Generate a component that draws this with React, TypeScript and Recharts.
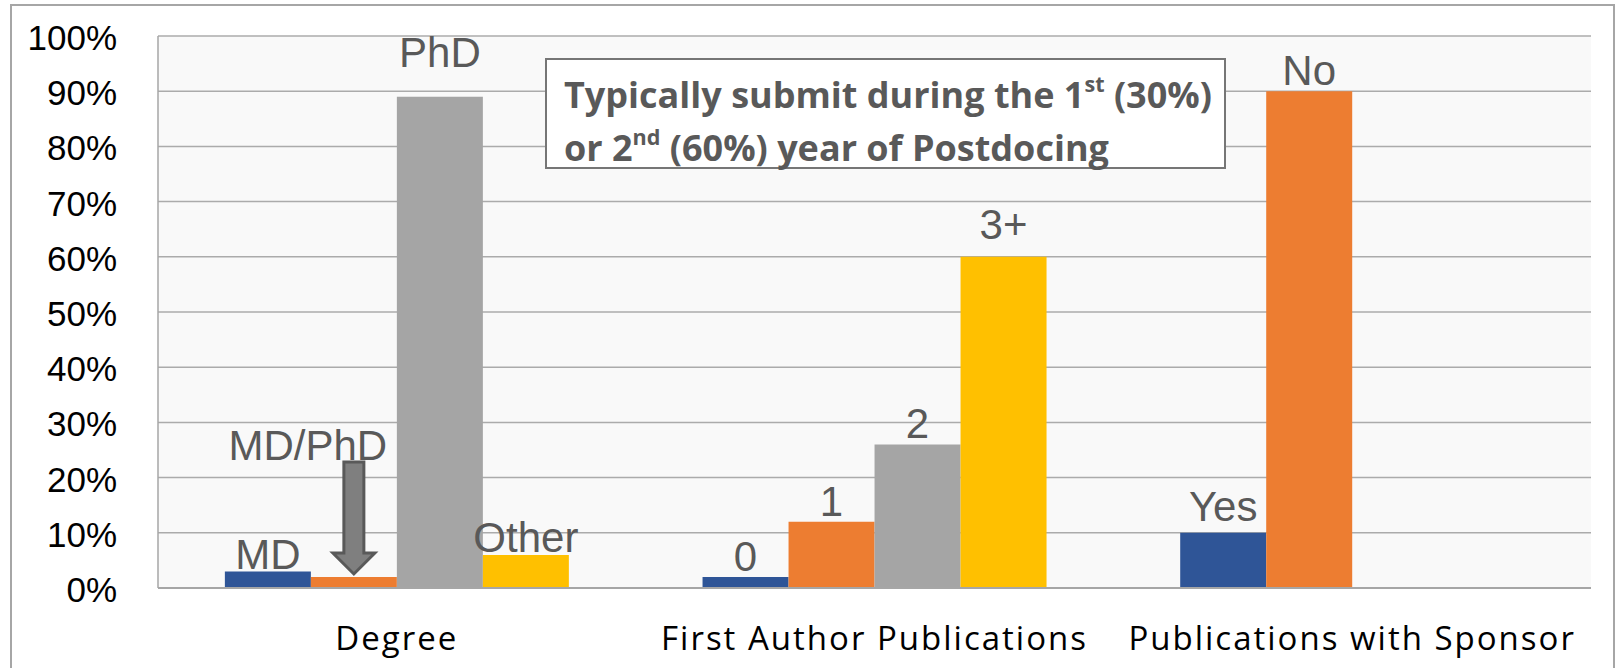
import React from "react"
import {
  BarChart,
  Bar,
  XAxis,
  YAxis,
  CartesianGrid,
  LabelList,
} from "recharts"

const categories = ["Degree", "First Author Publications", "Publications with Sponsor"]

// four bar slots per group, values in percent
const series1 = [3, 2, 10]
const series2 = [2, 12, 90]
const series3 = [89, 26, null]
const series4 = [6, 60, null]

const labels1 = ["MD", "0", "Yes"]
const labels2 = ["MD/PhD", "1", "No"]
const labels3 = ["PhD", "2", ""]
const labels4 = ["Other", "3+", ""]

const yTicks = [0, 10, 20, 30, 40, 50, 60, 70, 80, 90, 100]

const data = categories.map((name, i) => ({
  name,
  s1: series1[i],
  s2: series2[i],
  s3: series3[i],
  s4: series4[i],
}))

const colors = ["#2F5597", "#ED7D31", "#A5A5A5", "#FFC000"]
const labelText = "#595959"
const labelFont = "Liberation Sans, Arial, sans-serif"
// extra lift for a few labels that sit higher above their bars
const labelLift: Record<string, number> = { PhD: 24, "3+": 12, Yes: 6, MD: -4, Other: -3 }
const calloutLabel = "MD/PhD"

function makeLabel(labels: string[]) {
  return (props: any) => {
    const { x, y, width, index, value } = props
    const text = labels[index]
    if (value == null || !text) return null
    const cx = x + width / 2
    if (text === calloutLabel) {
      const top = y - 115
      const tip = y - 3
      const headBase = y - 24
      const sw = 10
      const hw = 21
      const d = `M${cx - sw},${top} L${cx + sw},${top} L${cx + sw},${headBase} L${cx + hw},${headBase} L${cx},${tip} L${cx - hw},${headBase} L${cx - sw},${headBase} Z`
      return (
        <g>
          <path d={d} fill="#7F7F7F" stroke="#595959" strokeWidth={3} />
          <text
            x={cx - 46}
            y={top - 2}
            textAnchor="middle"
            fontFamily={labelFont}
            fontSize={42}
            fill={labelText}
          >
            {text}
          </text>
        </g>
      )
    }
    const lift = labelLift[text] ?? 0
    return (
      <text
        x={cx}
        y={y - 6 - lift}
        textAnchor="middle"
        fontFamily={labelFont}
        fontSize={42}
        fill={labelText}
      >
        {text}
      </text>
    )
  }
}

const XTick = (props: any) => {
  const { x, y, payload } = props
  return (
    <text
      x={x}
      y={y + 62}
      textAnchor="middle"
      fontFamily="Open Sans, sans-serif"
      fontSize={33}
      letterSpacing={2}
      fill="#000"
    >
      {payload.value}
    </text>
  )
}

const YTick = (props: any) => {
  const { x, y, payload } = props
  return (
    <text
      x={x - 41}
      y={y + 14}
      textAnchor="end"
      fontFamily={labelFont}
      fontSize={35}
      fill="#000"
    >
      {payload.value}%
    </text>
  )
}

export default function App() {
  return (
    <div
      style={{
        position: "absolute",
        left: 0,
        top: 0,
        width: 1618,
        height: 668,
        background: "#fff",
        overflow: "hidden",
      }}
    >
      <div
        style={{
          position: "absolute",
          left: 10,
          top: 4,
          width: 1601,
          height: 700,
          borderTop: "2px solid #A6A6A6",
          borderLeft: "2px solid #A6A6A6",
          borderRight: "2px solid #A6A6A6",
        }}
      />
      <div style={{ position: "absolute", left: 0, top: 0 }}>
        <BarChart
          width={1618}
          height={668}
          data={data}
          margin={{ top: 36, right: 27, left: 0, bottom: 0 }}
          barCategoryGap="14%"
          barGap={0}
        >
          <CartesianGrid
            vertical={false}
            stroke="#ABABAB"
            strokeWidth={1.5}
            fill="#F9F9F9"
          />
          <XAxis
            dataKey="name"
            height={80}
            tickLine={false}
            tickSize={0}
            tickMargin={0}
            axisLine={{ stroke: "#A6A6A6", strokeWidth: 2 }}
            tick={<XTick />}
            interval={0}
          />
          <YAxis
            width={158}
            domain={[0, 100]}
            ticks={yTicks}
            tickLine={false}
            tickSize={0}
            tickMargin={0}
            axisLine={{ stroke: "#A6A6A6", strokeWidth: 1.5 }}
            tick={<YTick />}
            interval={0}
          />
          <Bar dataKey="s1" fill={colors[0]} isAnimationActive={false}>
            <LabelList dataKey="s1" content={makeLabel(labels1)} />
          </Bar>
          <Bar dataKey="s2" fill={colors[1]} isAnimationActive={false}>
            <LabelList dataKey="s2" content={makeLabel(labels2)} />
          </Bar>
          <Bar dataKey="s3" fill={colors[2]} isAnimationActive={false}>
            <LabelList dataKey="s3" content={makeLabel(labels3)} />
          </Bar>
          <Bar dataKey="s4" fill={colors[3]} isAnimationActive={false}>
            <LabelList dataKey="s4" content={makeLabel(labels4)} />
          </Bar>
        </BarChart>
      </div>
      <div
        style={{
          position: "absolute",
          left: 545,
          top: 58,
          width: 681,
          height: 111,
          boxSizing: "border-box",
          border: "2px solid #767676",
          background: "#fff",
          padding: "11px 0 0 17px",
          fontFamily: "Open Sans, sans-serif",
          fontWeight: 700,
          fontSize: 36,
          lineHeight: "48px",
          color: "#595959",
          whiteSpace: "nowrap",
        }}
      >
        <div>
          Typically submit during the 1
          <span style={{ fontSize: "0.6em", position: "relative", top: "-0.75em" }}>st</span> (30%)
        </div>
        <div>
          or 2
          <span style={{ fontSize: "0.6em", position: "relative", top: "-0.75em" }}>nd</span> (60%) year of Postdocing
        </div>
      </div>
    </div>
  )
}
